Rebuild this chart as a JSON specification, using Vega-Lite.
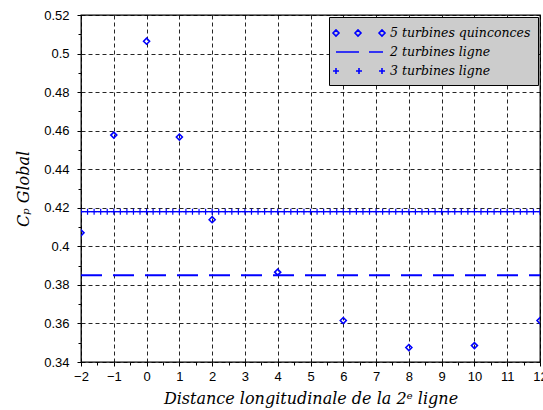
{
  "$schema": "https://vega.github.io/schema/vega-lite/v6.json",
  "width": 459,
  "height": 347,
  "autosize": {"type": "none"},
  "padding": {"left": 81, "top": 15, "right": 3, "bottom": 48},
  "background": "white",
  "config": {
    "view": {"stroke": "#000", "strokeWidth": 1.3},
    "axis": {
      "labelFont": "Liberation Sans",
      "labelFontSize": 13,
      "labelColor": "#000",
      "tickColor": "#000",
      "titleFont": "DejaVu Serif",
      "titleFontStyle": "italic",
      "titleFontWeight": "normal",
      "titleFontSize": 16,
      "titleColor": "#000",
      "domain": false
    }
  },
  "layer": [
    {
      "data": {"values": [
        {"d": -2, "cp": 0.407},
        {"d": -1, "cp": 0.4577},
        {"d": 0, "cp": 0.5064},
        {"d": 1, "cp": 0.4567},
        {"d": 2, "cp": 0.4138},
        {"d": 4, "cp": 0.3866},
        {"d": 6, "cp": 0.3615},
        {"d": 8, "cp": 0.3475},
        {"d": 10, "cp": 0.3485},
        {"d": 12, "cp": 0.3615}
      ]},
      "mark": {"type": "point", "shape": "diamond", "filled": false, "color": "#0000ff", "size": 36, "strokeWidth": 1.6, "opacity": 1, "clip": true},
      "encoding": {
        "x": {"field": "d", "type": "quantitative",
          "scale": {"domain": [-2, 12], "nice": false, "zero": false},
          "axis": {"title": "Distance longitudinale de la 2ᵉ ligne", "orient": "bottom",
            "values": [-2, -1.5, -1, -0.5, 0, 0.5, 1, 1.5, 2, 2.5, 3, 3.5, 4, 4.5, 5, 5.5, 6, 6.5, 7, 7.5, 8, 8.5, 9, 9.5, 10, 10.5, 11, 11.5, 12],
            "format": "~g",
            "labelExpr": "datum.value % 1 === 0 ? datum.label : ''",
            "grid": true, "gridDash": [4, 3], "gridColor": "#000",
            "gridOpacity": {"condition": {"test": "datum.value % 1 !== 0", "value": 0}, "value": 0.85},
            "gridWidth": 1,
            "tickSize": {"condition": {"test": "datum.value % 1 !== 0", "value": 3}, "value": 4},
            "labelPadding": 4, "titlePadding": 7, "labelFlush": false, "labelOverlap": false}},
        "y": {"field": "cp", "type": "quantitative",
          "scale": {"domain": [0.34, 0.52], "nice": false, "zero": false},
          "axis": {"title": "Cₚ Global", "orient": "left",
            "values": [0.34, 0.35, 0.36, 0.37, 0.38, 0.39, 0.4, 0.41, 0.42, 0.43, 0.44, 0.45, 0.46, 0.47, 0.48, 0.49, 0.5, 0.51, 0.52],
            "format": ".2~f",
            "labelExpr": "round(datum.value * 100) % 2 === 0 ? datum.label : ''",
            "grid": true, "gridDash": [4, 3], "gridColor": "#000",
            "gridOpacity": {"condition": {"test": "round(datum.value * 100) % 2 !== 0", "value": 0}, "value": 0.85},
            "gridWidth": 1,
            "tickSize": {"condition": {"test": "round(datum.value * 100) % 2 !== 0", "value": 3}, "value": 4},
            "labelPadding": 8, "titlePadding": 12, "labelFlush": false, "labelOverlap": false}}
      }
    },
    {
      "data": {"values": [{"d": -2, "cp": 0.385}, {"d": 12, "cp": 0.385}]},
      "mark": {"type": "line", "color": "#0000ff", "strokeWidth": 2, "strokeDash": [21, 11], "clip": true},
      "encoding": {
        "x": {"field": "d", "type": "quantitative", "axis": null},
        "y": {"field": "cp", "type": "quantitative", "axis": null}
      }
    },
    {
      "data": {"values": [
        {"d": -2, "cp": 0.418}, {"d": -1.8, "cp": 0.418}, {"d": -1.6, "cp": 0.418}, {"d": -1.4, "cp": 0.418}, {"d": -1.2, "cp": 0.418},
        {"d": -1, "cp": 0.418}, {"d": -0.8, "cp": 0.418}, {"d": -0.6, "cp": 0.418}, {"d": -0.4, "cp": 0.418}, {"d": -0.2, "cp": 0.418},
        {"d": 0, "cp": 0.418}, {"d": 0.2, "cp": 0.418}, {"d": 0.4, "cp": 0.418}, {"d": 0.6, "cp": 0.418}, {"d": 0.8, "cp": 0.418},
        {"d": 1, "cp": 0.418}, {"d": 1.2, "cp": 0.418}, {"d": 1.4, "cp": 0.418}, {"d": 1.6, "cp": 0.418}, {"d": 1.8, "cp": 0.418},
        {"d": 2, "cp": 0.418}, {"d": 2.2, "cp": 0.418}, {"d": 2.4, "cp": 0.418}, {"d": 2.6, "cp": 0.418}, {"d": 2.8, "cp": 0.418},
        {"d": 3, "cp": 0.418}, {"d": 3.2, "cp": 0.418}, {"d": 3.4, "cp": 0.418}, {"d": 3.6, "cp": 0.418}, {"d": 3.8, "cp": 0.418},
        {"d": 4, "cp": 0.418}, {"d": 4.2, "cp": 0.418}, {"d": 4.4, "cp": 0.418}, {"d": 4.6, "cp": 0.418}, {"d": 4.8, "cp": 0.418},
        {"d": 5, "cp": 0.418}, {"d": 5.2, "cp": 0.418}, {"d": 5.4, "cp": 0.418}, {"d": 5.6, "cp": 0.418}, {"d": 5.8, "cp": 0.418},
        {"d": 6, "cp": 0.418}, {"d": 6.2, "cp": 0.418}, {"d": 6.4, "cp": 0.418}, {"d": 6.6, "cp": 0.418}, {"d": 6.8, "cp": 0.418},
        {"d": 7, "cp": 0.418}, {"d": 7.2, "cp": 0.418}, {"d": 7.4, "cp": 0.418}, {"d": 7.6, "cp": 0.418}, {"d": 7.8, "cp": 0.418},
        {"d": 8, "cp": 0.418}, {"d": 8.2, "cp": 0.418}, {"d": 8.4, "cp": 0.418}, {"d": 8.6, "cp": 0.418}, {"d": 8.8, "cp": 0.418},
        {"d": 9, "cp": 0.418}, {"d": 9.2, "cp": 0.418}, {"d": 9.4, "cp": 0.418}, {"d": 9.6, "cp": 0.418}, {"d": 9.8, "cp": 0.418},
        {"d": 10, "cp": 0.418}, {"d": 10.2, "cp": 0.418}, {"d": 10.4, "cp": 0.418}, {"d": 10.6, "cp": 0.418}, {"d": 10.8, "cp": 0.418},
        {"d": 11, "cp": 0.418}, {"d": 11.2, "cp": 0.418}, {"d": 11.4, "cp": 0.418}, {"d": 11.6, "cp": 0.418}, {"d": 11.8, "cp": 0.418},
        {"d": 12, "cp": 0.418}
      ]},
      "mark": {"type": "line", "color": "#0000ff", "strokeWidth": 1.2, "clip": true,
        "point": {"shape": "M-1,0H1M0,-1V1", "filled": false, "size": 36, "color": "#0000ff", "strokeWidth": 1.2, "opacity": 1}},
      "encoding": {
        "x": {"field": "d", "type": "quantitative", "axis": null},
        "y": {"field": "cp", "type": "quantitative", "axis": null}
      }
    },
    {
      "data": {"values": [
        {"series": "5 turbines quinconces"},
        {"series": "2 turbines ligne"},
        {"series": "3 turbines ligne"}
      ]},
      "mark": {"type": "point", "opacity": 0, "filled": false},
      "encoding": {
        "shape": {"field": "series", "type": "nominal",
          "scale": {
            "domain": ["5 turbines quinconces", "2 turbines ligne", "3 turbines ligne"],
            "range": [
              "M-1.5,0L-1.125,-0.375L-0.75,0L-1.125,0.375Z M1.25,0L1.625,-0.375L2,0L1.625,0.375Z M4.25,0L4.625,-0.375L5,0L4.625,0.375Z",
              "M-1.125,0H1.75M3,0H4.75",
              "M-1.5,0H-0.75M-1.125,-0.375V0.375M1.375,0H2.125M1.75,-0.375V0.375M4.25,0H5M4.625,-0.375V0.375"
            ]
          },
          "legend": {
            "title": null, "orient": "top-right", "offset": 2,
            "fillColor": "#cccccc", "strokeColor": "#000", "padding": 7,
            "symbolSize": 256, "symbolStrokeColor": "#0000ff", "symbolFillColor": "transparent",
            "symbolStrokeWidth": 1.6, "symbolOpacity": 1,
            "labelFont": "DejaVu Serif", "labelFontStyle": "italic", "labelFontSize": 12.5, "labelColor": "#000",
            "labelOffset": 36, "rowPadding": 3
          }
        }
      }
    }
  ],
  "resolve": {"axis": {"x": "independent", "y": "independent"}}
}
